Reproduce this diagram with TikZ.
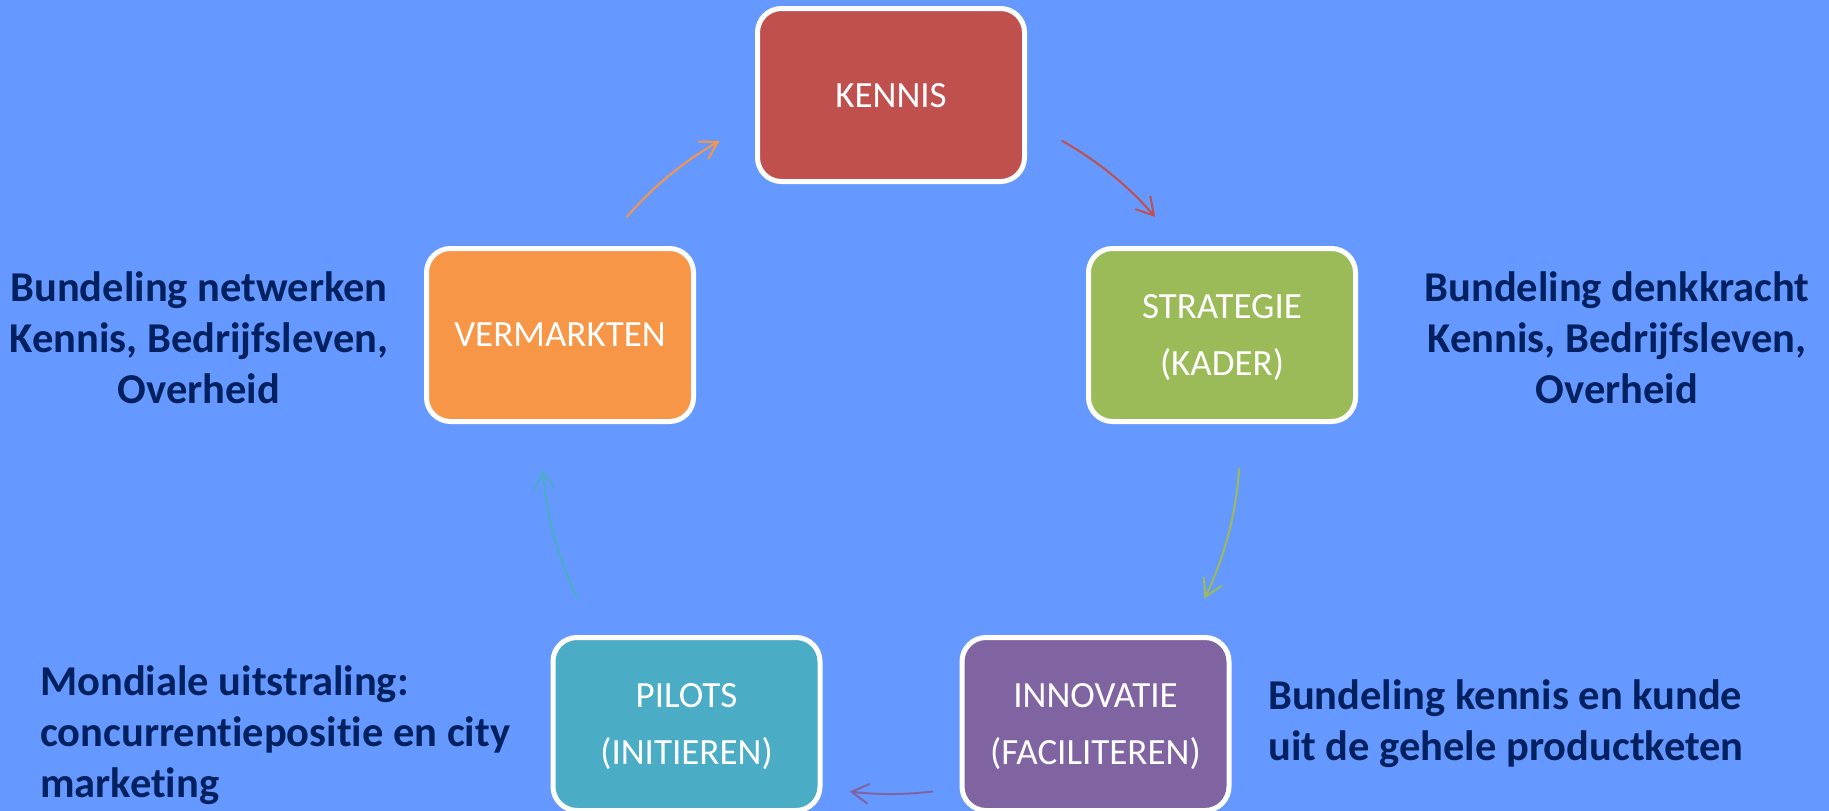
\documentclass[tikz,border=0pt]{standalone}
\usepackage{fontspec}
\setmainfont{Carlito}[Ligatures=NoCommon]
\usetikzlibrary{arrows.meta,calc}
\definecolor{bgblue}{RGB}{102,153,255}
\definecolor{cred}{RGB}{192,80,77}
\definecolor{cgreen}{RGB}{155,187,89}
\definecolor{cpurple}{RGB}{128,100,162}
\definecolor{cteal}{RGB}{75,172,198}
\definecolor{corange}{RGB}{247,150,70}
\definecolor{navy}{RGB}{0,32,96}
\tikzset{
  stepbox/.style={rectangle, rounded corners=24pt, draw=white, line width=5pt,
    minimum width=267pt, minimum height=173pt, text=white, align=center,
    font=\fontsize{37}{57}\selectfont, inner sep=0pt, text depth=0pt},
  sidetext/.style={text=navy, font=\fontsize{42.5}{51}\selectfont\bfseries, inner sep=0pt},
  cyclearrow/.style={line width=2pt, -{Straight Barb[length=17pt,width=20pt,line width=2pt]}}
}
\begin{document}
\begin{tikzpicture}[x=1pt,y=1pt]
\clip (0,0) rectangle (1829,-811);
\fill[bgblue] (0,0) rectangle (1829,-811);

\node[stepbox, fill=cred] (kennis) at (891,-95) {KENNIS};
\node[stepbox, fill=cgreen] (strategie) at (1222,-335) {STRATEGIE\\(KADER)};
\node[stepbox, fill=cpurple] (innovatie) at (1095.5,-724) {INNOVATIE\\(FACILITEREN)};
\node[stepbox, fill=cteal] (pilots) at (686.5,-724) {PILOTS\\(INITIEREN)};
\node[stepbox, fill=corange] (vermarkten) at (560,-335) {VERMARKTEN};

\coordinate (cen) at (891,-445);
\coordinate (r1) at ($(cen)+(60.7:349)$);
\coordinate (g1) at ($(cen)+(-3.8:349)$);
\coordinate (p1) at ($(cen)+(-83.1:349)$);
\coordinate (t1) at ($(cen)+(206.1:349)$);
\coordinate (o1) at ($(cen)+(139.2:349)$);

\draw[cyclearrow, cred] (r1) arc[start angle=60.7, end angle=40.8, radius=349];
\draw[cyclearrow, cgreen] (g1) arc[start angle=-3.8, end angle=-26.1, radius=349];
\draw[cyclearrow, cpurple] (p1) arc[start angle=-83.1, end angle=-96.8, radius=349];
\draw[cyclearrow, cteal] (t1) arc[start angle=206.1, end angle=184.1, radius=349];
\draw[cyclearrow, corange] (o1) arc[start angle=139.2, end angle=119.4, radius=349];

\node[sidetext, align=center] (lefttext) at (199,-337.5) {Bundeling netwerken\\Kennis, Bedrijfsleven,\\Overheid};
\node[sidetext, align=center] (righttext) at (1617,-337.5) {Bundeling denkkracht\\Kennis, Bedrijfsleven,\\Overheid};
\node[sidetext, align=left, anchor=west] (bltext) at (40,-735) {Mondiale uitstraling:\\concurrentiepositie en city\\marketing};
\node[sidetext, align=left, anchor=west] (brtext) at (1268,-724) {Bundeling kennis en kunde\\uit de gehele productketen};
\end{tikzpicture}
\end{document}
